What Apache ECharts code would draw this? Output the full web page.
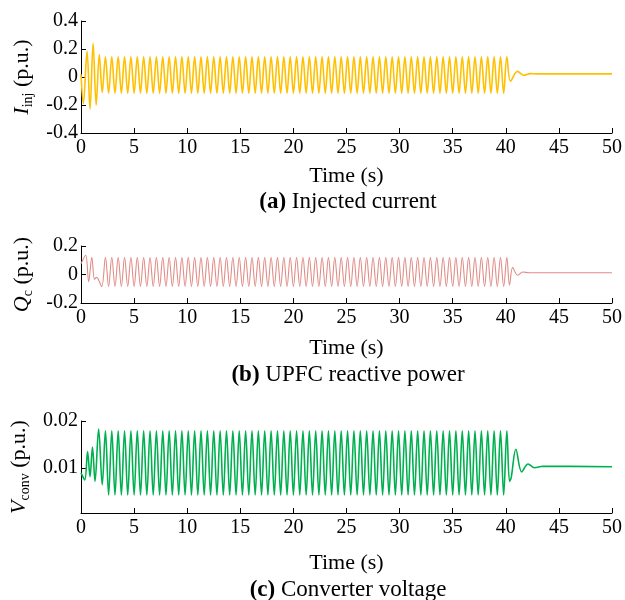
<!DOCTYPE html>
<html><head><meta charset="utf-8">
<script src="https://cdn.jsdelivr.net/npm/echarts@6/dist/echarts.min.js"></script>
<style>html,body{margin:0;padding:0;background:#fff}#c{width:625px;height:600px}</style>
</head><body><div id="c"></div><script>
// ---- data ----
// shared times of the steady oscillation extrema (peak, trough, ...), s
const steadyTimes = [
  2.3, 2.6, 2.9, 3.2, 3.5, 3.8, 4.1, 4.4, 4.7, 5.0,
  5.3, 5.6, 5.9, 6.2, 6.5, 6.8, 7.1, 7.4, 7.7, 8.0,
  8.3, 8.6, 8.9, 9.2, 9.5, 9.8, 10.1, 10.4, 10.7, 11.0,
  11.3, 11.6, 11.9, 12.2, 12.5, 12.8, 13.1, 13.4, 13.7, 14.0,
  14.3, 14.6, 14.9, 15.2, 15.5, 15.8, 16.1, 16.4, 16.7, 17.0,
  17.3, 17.6, 17.9, 18.2, 18.5, 18.8, 19.1, 19.4, 19.7, 20.0,
  20.3, 20.6, 20.9, 21.2, 21.5, 21.8, 22.1, 22.4, 22.7, 23.0,
  23.3, 23.6, 23.9, 24.2, 24.5, 24.8, 25.1, 25.4, 25.7, 26.0,
  26.3, 26.6, 26.9, 27.2, 27.5, 27.8, 28.1, 28.4, 28.7, 29.0,
  29.3, 29.6, 29.9, 30.2, 30.5, 30.8, 31.1, 31.4, 31.7, 32.0,
  32.3, 32.6, 32.9, 33.2, 33.5, 33.8, 34.1, 34.4, 34.7, 35.0,
  35.3, 35.6, 35.9, 36.2, 36.5, 36.8, 37.1, 37.4, 37.7, 38.0,
  38.3, 38.6, 38.9, 39.2, 39.5, 39.8, 40.1
];

// (a) Injected current
const injStartT = [0, 0.22, 0.57, 0.85, 1.14, 1.43, 1.72, 2.0];
const injStartV = [0.02, -0.19, 0.185, -0.23, 0.24, -0.2, 0.16, -0.11];
const injSteadyV = [
  0.145, -0.115, 0.145, -0.115, 0.145, -0.115, 0.145, -0.115, 0.145, -0.115,
  0.145, -0.115, 0.145, -0.115, 0.145, -0.115, 0.145, -0.115, 0.145, -0.115,
  0.145, -0.115, 0.145, -0.115, 0.145, -0.115, 0.145, -0.115, 0.145, -0.115,
  0.145, -0.115, 0.145, -0.115, 0.145, -0.115, 0.145, -0.115, 0.145, -0.115,
  0.145, -0.115, 0.145, -0.115, 0.145, -0.115, 0.145, -0.115, 0.145, -0.115,
  0.145, -0.115, 0.145, -0.115, 0.145, -0.115, 0.145, -0.115, 0.145, -0.115,
  0.145, -0.115, 0.145, -0.115, 0.145, -0.115, 0.145, -0.115, 0.145, -0.115,
  0.145, -0.115, 0.145, -0.115, 0.145, -0.115, 0.145, -0.115, 0.145, -0.115,
  0.145, -0.115, 0.145, -0.115, 0.145, -0.115, 0.145, -0.115, 0.145, -0.115,
  0.145, -0.115, 0.145, -0.115, 0.145, -0.115, 0.145, -0.115, 0.145, -0.115,
  0.145, -0.115, 0.145, -0.115, 0.145, -0.115, 0.145, -0.115, 0.145, -0.115,
  0.145, -0.115, 0.145, -0.115, 0.145, -0.115, 0.145, -0.115, 0.145, -0.115,
  0.145, -0.115, 0.145, -0.115, 0.145, -0.115, 0.145
];
const injEndT = [40.45, 41.1, 41.7, 42.3, 43.0, 50];
const injEndV = [-0.03, 0.04, 0.012, 0.024, 0.022, 0.022];

// (b) UPFC reactive power
const qStartT = [0, 0.44, 0.72, 1.02, 1.27, 1.45, 1.6, 1.95];
const qStartV = [0.075, 0.135, -0.05, 0.12, -0.035, -0.02, -0.03, -0.085];
const qSteadyV = [
  0.12, -0.085, 0.12, -0.085, 0.12, -0.085, 0.12, -0.085, 0.12, -0.085,
  0.12, -0.085, 0.12, -0.085, 0.12, -0.085, 0.12, -0.085, 0.12, -0.085,
  0.12, -0.085, 0.12, -0.085, 0.12, -0.085, 0.12, -0.085, 0.12, -0.085,
  0.12, -0.085, 0.12, -0.085, 0.12, -0.085, 0.12, -0.085, 0.12, -0.085,
  0.12, -0.085, 0.12, -0.085, 0.12, -0.085, 0.12, -0.085, 0.12, -0.085,
  0.12, -0.085, 0.12, -0.085, 0.12, -0.085, 0.12, -0.085, 0.12, -0.085,
  0.12, -0.085, 0.12, -0.085, 0.12, -0.085, 0.12, -0.085, 0.12, -0.085,
  0.12, -0.085, 0.12, -0.085, 0.12, -0.085, 0.12, -0.085, 0.12, -0.085,
  0.12, -0.085, 0.12, -0.085, 0.12, -0.085, 0.12, -0.085, 0.12, -0.085,
  0.12, -0.085, 0.12, -0.085, 0.12, -0.085, 0.12, -0.085, 0.12, -0.085,
  0.12, -0.085, 0.12, -0.085, 0.12, -0.085, 0.12, -0.085, 0.12, -0.085,
  0.12, -0.085, 0.12, -0.085, 0.12, -0.085, 0.12, -0.085, 0.12, -0.085,
  0.12, -0.085, 0.12, -0.085, 0.12, -0.085, 0.12
];
const qEndT = [40.35, 40.65, 41.1, 41.6, 42.2, 50];
const qEndV = [-0.075, 0.05, -0.005, 0.018, 0.012, 0.0125];

// (c) Converter voltage
const vStartT = [0, 0.35, 0.62, 0.85, 1.08, 1.32, 1.66, 2.0];
const vStartV = [0.009, 0.0075, 0.0135, 0.0082, 0.0145, 0.0072, 0.0183, 0.0065];
const vSteadyV = [
  0.0179, 0.0043, 0.0179, 0.0043, 0.0179, 0.0043, 0.0179, 0.0043, 0.0179, 0.0043,
  0.0179, 0.0043, 0.0179, 0.0043, 0.0179, 0.0043, 0.0179, 0.0043, 0.0179, 0.0043,
  0.0179, 0.0043, 0.0179, 0.0043, 0.0179, 0.0043, 0.0179, 0.0043, 0.0179, 0.0043,
  0.0179, 0.0043, 0.0179, 0.0043, 0.0179, 0.0043, 0.0179, 0.0043, 0.0179, 0.0043,
  0.0179, 0.0043, 0.0179, 0.0043, 0.0179, 0.0043, 0.0179, 0.0043, 0.0179, 0.0043,
  0.0179, 0.0043, 0.0179, 0.0043, 0.0179, 0.0043, 0.0179, 0.0043, 0.0179, 0.0043,
  0.0179, 0.0043, 0.0179, 0.0043, 0.0179, 0.0043, 0.0179, 0.0043, 0.0179, 0.0043,
  0.0179, 0.0043, 0.0179, 0.0043, 0.0179, 0.0043, 0.0179, 0.0043, 0.0179, 0.0043,
  0.0179, 0.0043, 0.0179, 0.0043, 0.0179, 0.0043, 0.0179, 0.0043, 0.0179, 0.0043,
  0.0179, 0.0043, 0.0179, 0.0043, 0.0179, 0.0043, 0.0179, 0.0043, 0.0179, 0.0043,
  0.0179, 0.0043, 0.0179, 0.0043, 0.0179, 0.0043, 0.0179, 0.0043, 0.0179, 0.0043,
  0.0179, 0.0043, 0.0179, 0.0043, 0.0179, 0.0043, 0.0179, 0.0043, 0.0179, 0.0043,
  0.0179, 0.0043, 0.0179, 0.0043, 0.0179, 0.0043, 0.0179
];
const vEndT = [40.35, 40.5, 40.95, 41.5, 42.1, 42.7, 43.5, 50];
const vEndV = [0.0072, 0.0079, 0.014, 0.0092, 0.0109, 0.0101, 0.0104, 0.0103];

// axis ticks
const xTickInterval = 5;
const vTickValues = [0.01, 0.02];

// ---- build ----
function pairs(ts, vs) { return ts.map((t, i) => [t, vs[i]]); }
const injData = pairs(injStartT.concat(steadyTimes, injEndT), injStartV.concat(injSteadyV, injEndV));
const qData = pairs(qStartT.concat(steadyTimes, qEndT), qStartV.concat(qSteadyV, qEndV));
const vData = pairs(vStartT.concat(steadyTimes, vEndT), vStartV.concat(vSteadyV, vEndV));

const FONT = 'Liberation Serif';
const BLACK = '#000';

function xAxis(i, gap) {
  return {
    type: 'value', gridIndex: i, min: 0, max: 50, interval: xTickInterval,
    axisLine: { show: true, onZero: false, lineStyle: { color: BLACK, width: 1 } },
    axisTick: { inside: true, length: 5, lineStyle: { color: BLACK } },
    axisLabel: { color: BLACK, fontFamily: FONT, fontSize: 20, margin: 5 },
    splitLine: { show: false },
    name: 'Time (s)', nameLocation: 'middle', nameGap: gap,
    nameTextStyle: { fontFamily: FONT, fontSize: 22, color: BLACK }
  };
}
const nameRich = {
  i: { fontFamily: FONT, fontSize: 22, fontStyle: 'italic', color: BLACK },
  s: { fontFamily: FONT, fontSize: 14, color: BLACK, padding: [12, 0, 0, 0] },
  n: { fontFamily: FONT, fontSize: 22, color: BLACK }
};
function yAxis(i, extra) {
  return Object.assign({
    type: 'value', gridIndex: i,
    axisLine: { show: true, lineStyle: { color: BLACK, width: 1 } },
    axisTick: { show: true, inside: true, length: 5, lineStyle: { color: BLACK } },
    axisLabel: { color: BLACK, fontFamily: FONT, fontSize: 20, margin: 3 },
    splitLine: { show: false },
    nameLocation: 'middle', nameRotate: 90, nameGap: 46,
    nameTextStyle: { fontFamily: FONT, fontSize: 22, color: BLACK, rich: nameRich }
  }, extra);
}

const option = {
  animation: false,
  backgroundColor: '#fff',
  grid: [
    { left: 81, right: 10, top: 21, height: 112 },
    { left: 81, right: 10, top: 246, height: 57 },
    { left: 81, right: 10, top: 421, height: 92 }
  ],
  xAxis: [xAxis(0, 32), xAxis(1, 34), xAxis(2, 39)],
  yAxis: [
    yAxis(0, { min: -0.4, max: 0.4, interval: 0.2, name: '{i|I}{s|inj} {n|(p.u.)}' }),
    yAxis(1, { min: -0.2, max: 0.2, interval: 0.2, name: '{i|Q}{s|c} {n|(p.u.)}' }),
    yAxis(2, { min: 0.0005, max: 0.02, name: '{i|V}{s|conv} {n|(p.u.)}',
      axisTick: { show: true, inside: true, length: 5, lineStyle: { color: BLACK }, customValues: vTickValues },
      axisLabel: { color: BLACK, fontFamily: FONT, fontSize: 20, margin: 3, customValues: vTickValues } })
  ],
  series: [
    { type: 'line', xAxisIndex: 0, yAxisIndex: 0, data: injData, showSymbol: false, smooth: 0.35,
      lineStyle: { color: '#FFC000', width: 1.6 } },
    { type: 'line', xAxisIndex: 1, yAxisIndex: 1, data: qData, showSymbol: false, smooth: 0.35,
      lineStyle: { color: '#E08C87', width: 1.1 } },
    { type: 'line', xAxisIndex: 2, yAxisIndex: 2, data: vData, showSymbol: false, smooth: 0.35,
      lineStyle: { color: '#00B050', width: 1.6 } }
  ],
  graphic: [
    { type: 'text', x: 348, y: 202, style: { text: '{b|(a)} Injected current', fontFamily: FONT, fontSize: 23, fill: BLACK, align: 'center', verticalAlign: 'middle',
      rich: { b: { fontFamily: FONT, fontSize: 23, fontWeight: 'bold', fill: BLACK } } } },
    { type: 'text', x: 348, y: 375, style: { text: '{b|(b)} UPFC reactive power', fontFamily: FONT, fontSize: 23, fill: BLACK, align: 'center', verticalAlign: 'middle',
      rich: { b: { fontFamily: FONT, fontSize: 23, fontWeight: 'bold', fill: BLACK } } } },
    { type: 'text', x: 348, y: 590, style: { text: '{b|(c)} Converter voltage', fontFamily: FONT, fontSize: 23, fill: BLACK, align: 'center', verticalAlign: 'middle',
      rich: { b: { fontFamily: FONT, fontSize: 23, fontWeight: 'bold', fill: BLACK } } } }
  ]
};
const chart = echarts.init(document.getElementById('c'), null, { renderer: 'canvas' });
chart.setOption(option);
</script></body></html>
